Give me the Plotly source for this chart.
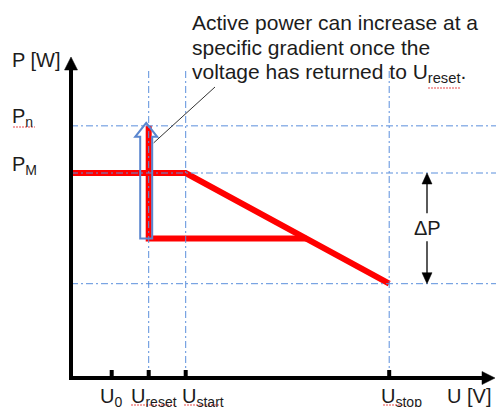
import plotly.graph_objects as go

# ---- characteristic data -------------------------------------------------
# Voltage levels on the U axis (arbitrary units)
u_ticks = [1.1, 2.1, 3.1, 8.6]
u_tick_labels = ["U<sub>0</sub>", "U<sub>reset</sub>", "U<sub>start</sub>", "U<sub>stop</sub>"]

# Power levels relative to P_M
p_n = 1.23          # nominal power
p_m = 1.0           # maximum power before derating
p_stop = 0.46       # power reached at U_stop
p_reduced = 0.68    # reduced power held after the voltage event
p_labels = ["P<sub>n</sub>", "P<sub>M</sub>"]

# Derating curve: flat at P_M up to U_start, then linear down to U_stop
curve_u = [0.0, u_ticks[2], u_ticks[3]]
curve_p = [p_m, p_m, p_stop]

# ---- canvas geometry -----------------------------------------------------
W, H = 496, 407
ORIGIN_X, ORIGIN_Y = 71, 378   # pixel position of the origin
SX, SY = 37.0, 205.0           # pixels per unit along U and P

x_range = [-ORIGIN_X / SX, (W - ORIGIN_X) / SX]
y_range = [-(H - ORIGIN_Y) / SY, ORIGIN_Y / SY]


def du(px):
    return px / SX


def dp(px):
    return px / SY


def pxp(x):
    return x / W


def pyp(y):
    return 1 - y / H


def arrow_head(tip_u, tip_p, direction, length, width):
    """Filled triangular head, length/width given in pixels."""
    if direction == "up":
        bu, bp = tip_u, tip_p - dp(length)
        return (f"M{tip_u},{tip_p} L{bu - du(width / 2)},{bp} "
                f"L{bu + du(width / 2)},{bp} Z")
    if direction == "down":
        bu, bp = tip_u, tip_p + dp(length)
        return (f"M{tip_u},{tip_p} L{bu - du(width / 2)},{bp} "
                f"L{bu + du(width / 2)},{bp} Z")
    # right
    bu, bp = tip_u - du(length), tip_p
    return (f"M{tip_u},{tip_p} L{bu},{bp - dp(width / 2)} "
            f"L{bu},{bp + dp(width / 2)} Z")


GUIDE = "#5b8fdc"
RED = "#ff0000"
BLACK = "#000000"
TEXT = "#1c1c1c"
SQUIGGLE = "#e84a4a"
FONT = "Liberation Sans, Arial, sans-serif"

fig = go.Figure()
shapes = []
annotations = []

# ---- dash-dot guide lines --------------------------------------------------
guide_top = dp(ORIGIN_Y - 70)
for u in u_ticks[1:]:
    shapes.append(dict(type="line", x0=u, x1=u, y0=0, y1=guide_top,
                       line=dict(color=GUIDE, width=1, dash="7px,3px,2px,3px")))
for p in [p_n, p_m, p_stop]:
    shapes.append(dict(type="line", x0=0, x1=x_range[1], y0=p, y1=p,
                       line=dict(color=GUIDE, width=1, dash="7px,3px,2px,3px")))

# ---- hollow block arrow showing the power ramp at U_reset -------------------
u_reset = u_ticks[1]
ac = u_reset - du(2.5)
bw, hw, hh = du(6), du(11), dp(14)
tip = p_n + dp(3)
arrow_path = (f"M{ac - bw},{p_reduced} L{ac - bw},{tip - hh} L{ac - hw},{tip - hh} "
              f"L{ac},{tip} L{ac + hw},{tip - hh} L{ac + bw},{tip - hh} "
              f"L{ac + bw},{p_reduced} Z")
shapes.append(dict(type="path", path=arrow_path,
                   line=dict(color="#5a86cf", width=2), fillcolor="rgba(0,0,0,0)"))

# ---- derating characteristic (red) ---------------------------------------
fig.add_trace(go.Scatter(x=curve_u, y=curve_p, mode="lines",
                         line=dict(color=RED, width=6), hoverinfo="skip"))
# intersection of the reduced-power line with the falling slope
frac = (p_m - p_reduced) / (p_m - p_stop)
u_cross = curve_u[1] + frac * (curve_u[2] - curve_u[1])
fig.add_trace(go.Scatter(x=[u_reset, u_reset, u_cross],
                         y=[p_n, p_reduced, p_reduced], mode="lines",
                         line=dict(color=RED, width=6), hoverinfo="skip"))

# ---- axes with arrow heads -----------------------------------------------
y_tip = dp(ORIGIN_Y - 57)
shapes.append(dict(type="line", x0=0, x1=0, y0=-dp(2), y1=y_tip - dp(10),
                   line=dict(color=BLACK, width=4)))
shapes.append(dict(type="path", path=arrow_head(0, y_tip, "up", 13, 13),
                   fillcolor=BLACK, line=dict(color=BLACK, width=0.5)))
x_tip = du(W - 1 - ORIGIN_X)
shapes.append(dict(type="line", x0=-du(2), x1=x_tip - du(10), y0=0, y1=0,
                   line=dict(color=BLACK, width=4)))
shapes.append(dict(type="path", path=arrow_head(x_tip, 0, "right", 13, 13),
                   fillcolor=BLACK, line=dict(color=BLACK, width=0.5)))
for u in u_ticks:
    shapes.append(dict(type="line", x0=u, x1=u, y0=0, y1=dp(8),
                       line=dict(color=BLACK, width=4)))

# ---- delta P double arrow ------------------------------------------------
dP_u = du(427 - ORIGIN_X)
dP_mid = (p_m + p_stop) / 2
shapes.append(dict(type="line", x0=dP_u, x1=dP_u, y0=p_m - dp(10), y1=dP_mid + dp(15),
                   line=dict(color=BLACK, width=1.3)))
shapes.append(dict(type="line", x0=dP_u, x1=dP_u, y0=dP_mid - dp(13), y1=p_stop + dp(10),
                   line=dict(color=BLACK, width=1.3)))
shapes.append(dict(type="path", path=arrow_head(dP_u, p_m, "up", 11, 10),
                   fillcolor=BLACK, line=dict(color=BLACK, width=0.5)))
shapes.append(dict(type="path", path=arrow_head(dP_u, p_stop, "down", 11, 10),
                   fillcolor=BLACK, line=dict(color=BLACK, width=0.5)))
annotations.append(dict(x=dP_u, y=dP_mid, xref="x", yref="y", text="ΔP",
                        showarrow=False, font=dict(size=20, color=TEXT, family=FONT),
                        xanchor="center", yanchor="middle"))

# ---- callout leader and text ---------------------------------------------
shapes.append(dict(type="line", x0=u_reset + du(5), y0=p_n - dp(17),
                   x1=du(215 - ORIGIN_X), y1=dp(ORIGIN_Y - 87),
                   line=dict(color="#333333", width=1)))

callout = ["Active power can increase at a",
           "specific gradient once the",
           "voltage has returned to U<sub>reset</sub>."]
for line_text, yc in zip(callout, [22, 48, 73]):
    annotations.append(dict(x=pxp(190), y=pyp(yc), xref="paper", yref="paper",
                            text=line_text, showarrow=False, xanchor="left",
                            yanchor="middle",
                            font=dict(size=21, color=TEXT, family=FONT)))

# ---- axis labels ---------------------------------------------------------
annotations.append(dict(x=pxp(10), y=pyp(60), xref="paper", yref="paper",
                        text="P [W]", showarrow=False, xanchor="left", yanchor="middle",
                        font=dict(size=20, color=TEXT, family=FONT)))
for lbl, p in zip(p_labels, [p_n, p_m]):
    annotations.append(dict(x=pxp(10), y=p + dp(8), xref="paper", yref="y",
                            text=lbl, showarrow=False, xanchor="left", yanchor="middle",
                            font=dict(size=20, color=TEXT, family=FONT)))

label_offsets = [-14, -20, -6, -10]
for lbl, u, off in zip(u_tick_labels, u_ticks, label_offsets):
    annotations.append(dict(x=u, y=0, xref="x", yref="y", xshift=off,
                            yshift=-5, text=lbl, showarrow=False,
                            xanchor="left", yanchor="top",
                            font=dict(size=20, color=TEXT, family=FONT)))
annotations.append(dict(x=pxp(445), y=0, xref="paper", yref="y", yshift=-5,
                        text="U [V]", showarrow=False, xanchor="left", yanchor="top",
                        font=dict(size=20, color=TEXT, family=FONT)))

# ---- spell-check style underlines beneath the subscripted symbols -----------
squiggles = [(13, 35, 127), (428, 460, 88), (131, 176, 405), (184, 220, 405), (383, 405, 405)]
for x0, x1, y in squiggles:
    shapes.append(dict(type="line", xref="paper", yref="paper",
                       x0=pxp(x0), x1=pxp(x1), y0=pyp(y), y1=pyp(y),
                       line=dict(color=SQUIGGLE, width=1.2, dash="2px,1px")))

fig.update_layout(
    width=W, height=H,
    margin=dict(l=0, r=0, t=0, b=0),
    paper_bgcolor="white", plot_bgcolor="white",
    showlegend=False,
    xaxis=dict(range=x_range, visible=False, fixedrange=True),
    yaxis=dict(range=y_range, visible=False, fixedrange=True),
    shapes=shapes,
    annotations=annotations,
)

fig.write_html("out.html")
